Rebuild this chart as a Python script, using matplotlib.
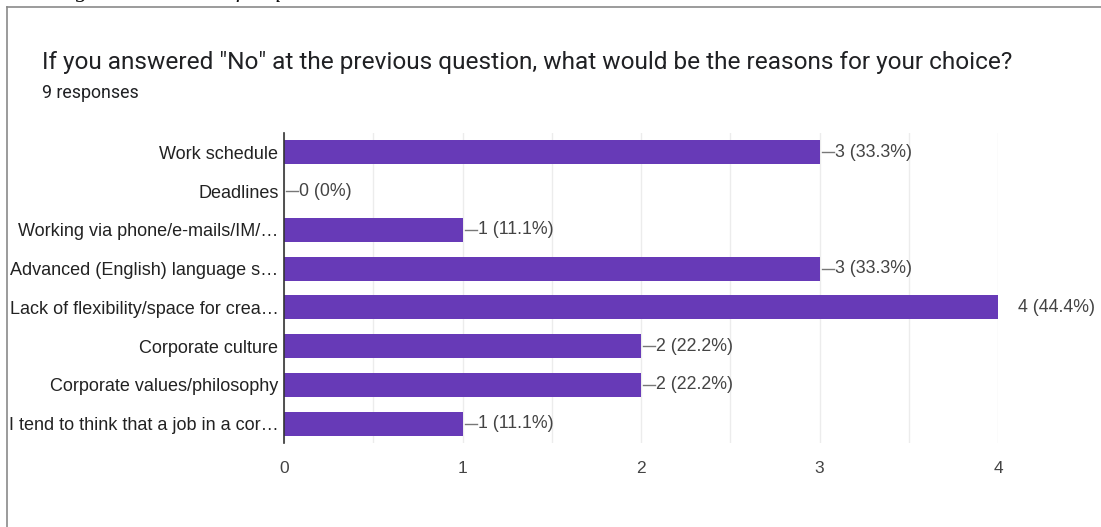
import numpy as np
import matplotlib
matplotlib.use('Agg')
import matplotlib.pyplot as plt
from matplotlib.lines import Line2D
from matplotlib.ticker import MultipleLocator

question = 'If you answered "No" at the previous question, what would be the reasons for your choice?'
n_responses = 9
reasons = ['Work schedule',
           'Deadlines',
           'Working via phone/e-mails/IM/\u2026',
           'Advanced (English) language s\u2026',
           'Lack of flexibility/space for crea\u2026',
           'Corporate culture',
           'Corporate values/philosophy',
           'I tend to think that a job in a cor\u2026']
counts = [3, 0, 1, 3, 4, 2, 2, 1]
xticks = [0, 1, 2, 3, 4]

purple = '#673ab7'
textgray = '#444444'

fig = plt.figure(figsize=(11.01, 5.27), dpi=100)
W, H = 1101, 527

# outer card frame
fig.add_artist(Line2D([7 / W, 7 / W], [0, 1 - 7 / H], transform=fig.transFigure,
                      color='#8a8a8a', lw=1.2))
fig.add_artist(Line2D([7 / W, 1], [1 - 7 / H, 1 - 7 / H], transform=fig.transFigure,
                      color='#8a8a8a', lw=1.2))
# caption of the page, cut off at the top
fig.text(55 / W, 1 + 8 / H, 'Figure 16: Results for question 16', fontsize=17,
         family='Liberation Serif', style='italic', color='#111111', va='center')

fig.text(42 / W, 1 - 62 / H, question, fontsize=17.6, family='Roboto',
         color='#202124', va='center')
fig.text(42 / W, 1 - 93 / H, '%d responses' % n_responses, fontsize=12.8,
         family='Roboto', color='#202124', va='center')

ax = fig.add_axes([284 / W, 1 - 443 / H, (998 - 284) / W, (443 - 133) / H])
y = np.arange(len(reasons))
ax.barh(y, counts, height=0.62, color=purple, zorder=3)
ax.set_xlim(0, 4)
ax.set_ylim(len(reasons) - 0.5, -0.5)

ax.set_yticks(y)
ax.set_yticklabels(reasons, family='Liberation Sans', fontsize=13, color='#222222')
ax.set_xticks(xticks)
ax.set_xticklabels([str(t) for t in xticks], family='Liberation Sans', fontsize=12.5,
                   color=textgray)
ax.xaxis.set_minor_locator(MultipleLocator(0.5))
ax.tick_params(axis='y', length=0, pad=4)
ax.tick_params(axis='x', which='both', length=0, pad=13)
ax.grid(axis='x', which='both', color='#ececec', lw=1, zorder=0)

for s in ['top', 'right', 'bottom']:
    ax.spines[s].set_visible(False)
ax.spines['left'].set_color('#333333')
ax.spines['left'].set_linewidth(1.2)
ax.spines['left'].set_zorder(4)

px = 4 / 714  # data units per pixel along x
for yi, c in zip(y, counts):
    label = '%d (%.1f%%)' % (c, 100.0 * c / n_responses) if c else '0 (0%)'
    if c >= ax.get_xlim()[1]:
        ax.text(c + 20 * px, yi, label, va='center', ha='left', fontsize=12.8,
                family='Liberation Sans', color=textgray, clip_on=False)
    else:
        ax.plot([c + 2 * px, c + 14 * px], [yi, yi], color='#777777', lw=1, zorder=3)
        ax.text(c + 15 * px, yi, label, va='center', ha='left', fontsize=12.8,
                family='Liberation Sans', color=textgray)

fig.savefig('out.png', dpi=100, facecolor='white')
